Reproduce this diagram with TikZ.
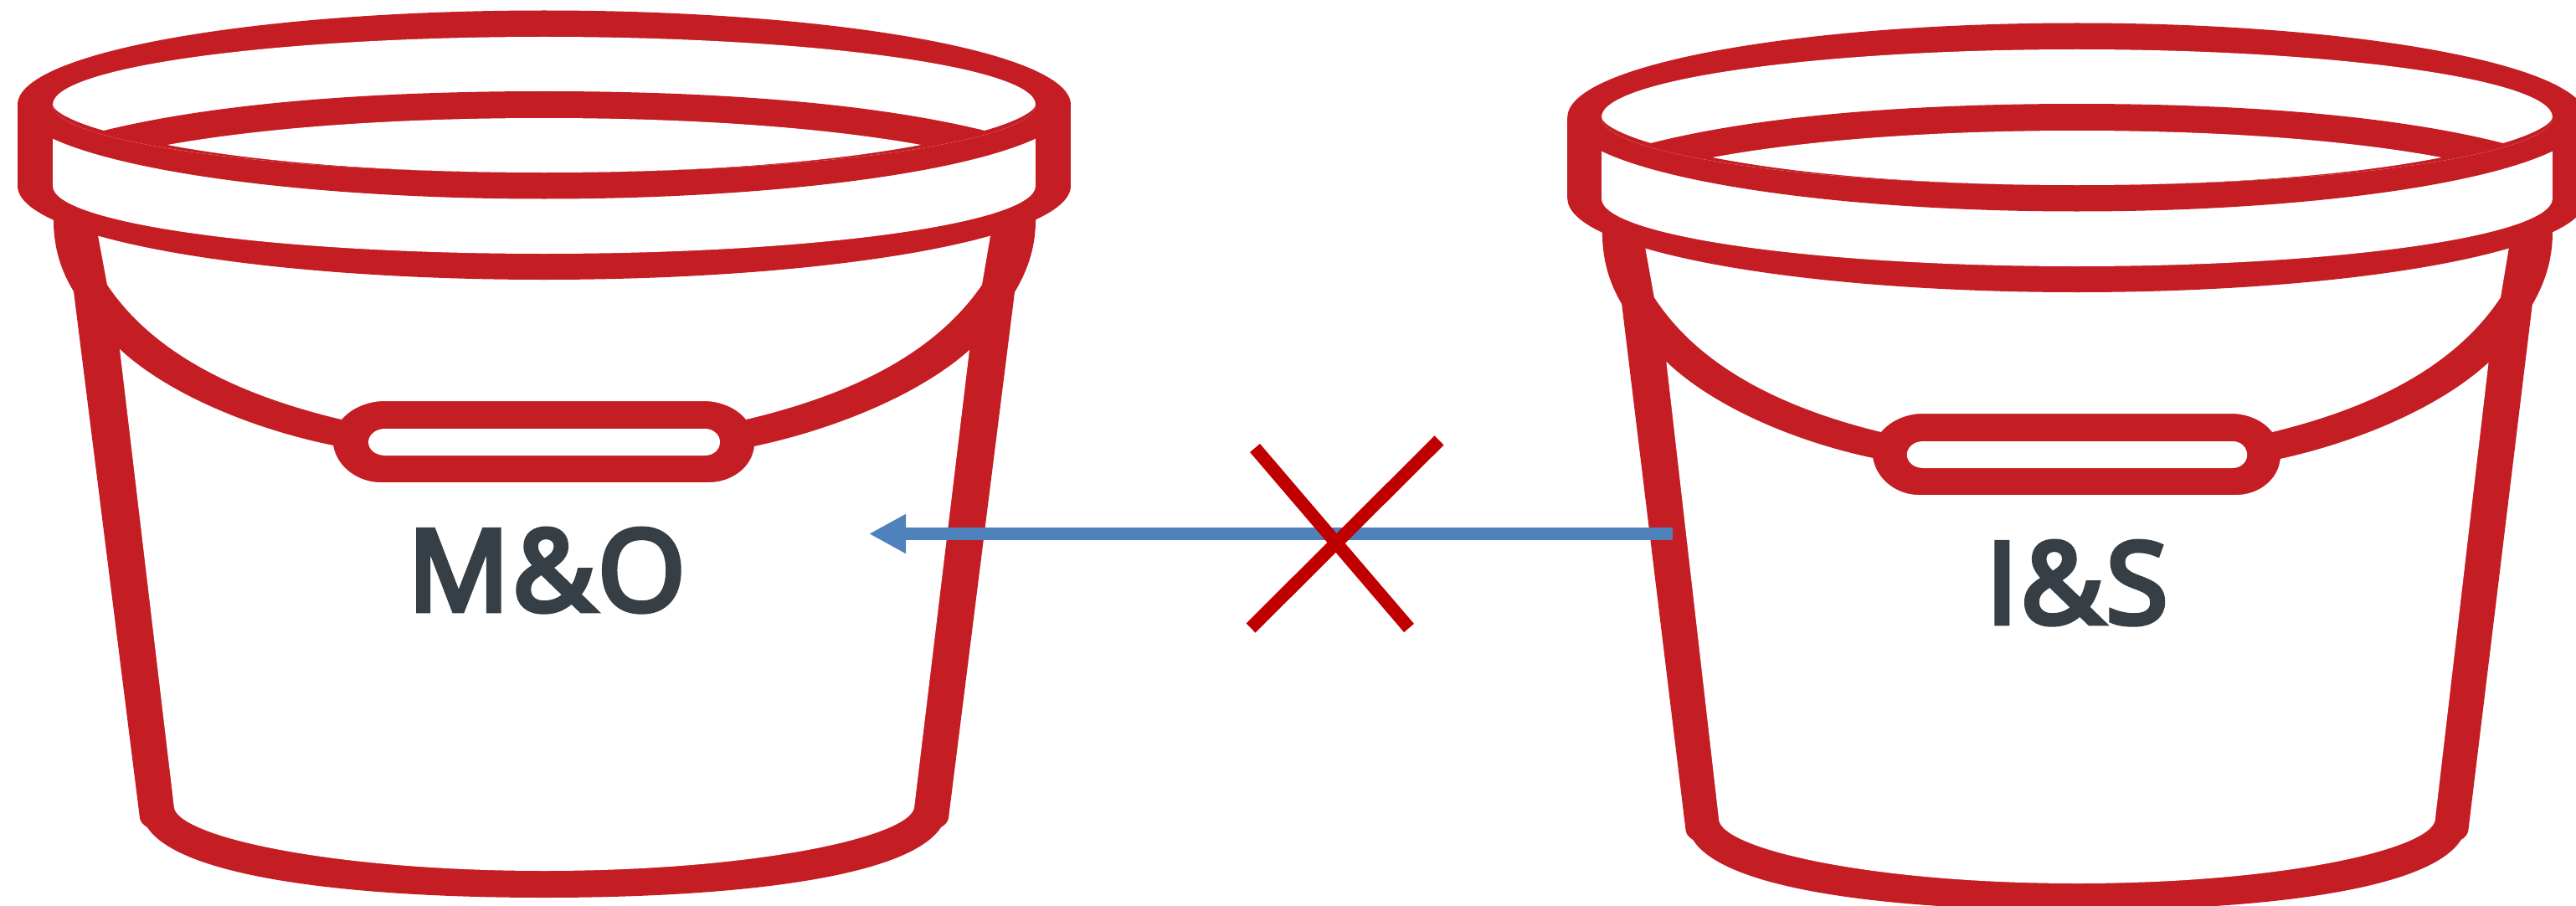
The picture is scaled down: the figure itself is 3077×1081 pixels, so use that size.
\documentclass[tikz,border=0pt]{standalone}
\usepackage{fontspec}
\usetikzlibrary{arrows.meta}
\newfontfamily\labfont[FakeBold=5,LetterSpace=3]{Open Sans}
\definecolor{bucketred}{HTML}{C41E24}
\definecolor{crossred}{HTML}{C00000}
\definecolor{arrowblue}{HTML}{4F81BD}
\definecolor{labelgrey}{HTML}{363F46}
\tikzset{
  redfill/.style={fill=bucketred},
  whitefill/.style={fill=white},
  bucket/.pic={
    % body silhouette
    \fill[redfill] (64,240) -- (64,267) .. controls (65,300) and (74,325) .. (88,348)
      -- (167,977) .. controls (168,982) and (171,985) .. (176,988)
      .. controls (215,1048) and (420,1072) .. (650,1072)
      .. controls (880,1072) and (1085,1048) .. (1124,988) .. controls (1129,985) and (1132,982) .. (1133,977)
      -- (1212,349) .. controls (1226,325) and (1236,300) .. (1237,267) -- (1237,240) -- cycle;
    % body, above the strap
    \fill[whitefill] (115,270) -- (128,340)
      .. controls (185,425) and (290,473) .. (408,501)
      .. controls (420,487) and (440,479) .. (459,479) -- (841,479)
      .. controls (860,479) and (880,487) .. (891,501)
      .. controls (1010,473) and (1115,425) .. (1173,340) -- (1185,270) -- cycle;
    % body, below the strap
    \fill[whitefill] (143,417) .. controls (200,470) and (300,512) .. (398,532)
      .. controls (403,560) and (430,576) .. (454,576) -- (847,576)
      .. controls (872,576) and (898,560) .. (901,533)
      .. controls (1000,512) and (1100,470) .. (1158,418) -- (1092,965)
      .. controls (1084,1000) and (900,1040) .. (650,1040)
      .. controls (400,1040) and (216,1000) .. (208,965) -- cycle;
    % handle opening
    \fill[whitefill] (460,512) -- (842,512) .. controls (853,512) and (860,520) .. (860,528)
      .. controls (860,537) and (852,544) .. (842,544) -- (460,544)
      .. controls (449,544) and (440,537) .. (440,528)
      .. controls (440,520) and (448,512) .. (460,512) -- cycle;
    % rim
    \fill[redfill] (21,125) rectangle (1279,222);
    \fill[redfill] (650,222) ellipse [x radius=629, y radius=112];
    \fill[whitefill] (63,125) rectangle (1237,222);
    \fill[whitefill] (650,222) ellipse [x radius=587, y radius=81];
    \fill[redfill] (650,125) ellipse [x radius=629, y radius=112.5];
    \fill[whitefill] (650,125) ellipse [x radius=587, y radius=81];
    \begin{scope}
      \clip (650,125) ellipse [x radius=587, y radius=81];
      \fill[redfill] (63,125) .. controls (64,135) and (95,148) .. (124,156)
        .. controls (250,125) and (430,109) .. (650,109)
        .. controls (870,109) and (1050,125) .. (1176,156)
        .. controls (1205,148) and (1236,135) .. (1237,125)
        -- (1240,300) -- (60,300) -- cycle;
    \end{scope}
    \fill[whitefill] (200,173) .. controls (300,155) and (450,141) .. (650,141)
      .. controls (850,141) and (1000,155) .. (1100,173)
      .. controls (1000,192) and (850,206) .. (650,206)
      .. controls (450,206) and (300,192) .. (200,173) -- cycle;
  },
  barlabel/.style={font=\labfont\fontsize{67}{80}\selectfont, text=labelgrey, inner sep=0pt, anchor=base},
  crossline/.style={draw=crossred, line width=7.8pt},
  flowarrow/.style={draw=arrowblue, line width=7.5pt, -{Triangle[length=22pt,width=22pt]}, fill=arrowblue}
}
\begin{document}
\begin{tikzpicture}[x=0.5pt,y=-0.5pt]
  \clip (0,0) rectangle (3077,1081);
  \pic at (0,0) {bucket};
  \pic[xscale=0.9676] at (1852,15) {bucket};
  \node[barlabel] (mo) at (653,729) {M\&O};
  \node[barlabel] (is) at (2481,744) {I\&S};
  \coordinate (arrowstart) at (1998,637.5);
  \coordinate (arrowend) at (1038,637.5);
  \draw[flowarrow] (arrowstart) -- (arrowend);
  \coordinate (crossa1) at (1499,535);
  \coordinate (crossa2) at (1683,750);
  \coordinate (crossb1) at (1719,526);
  \coordinate (crossb2) at (1494,750);
  \draw[crossline] (crossa1) -- (crossa2);
  \draw[crossline] (crossb1) -- (crossb2);
\end{tikzpicture}
\end{document}
